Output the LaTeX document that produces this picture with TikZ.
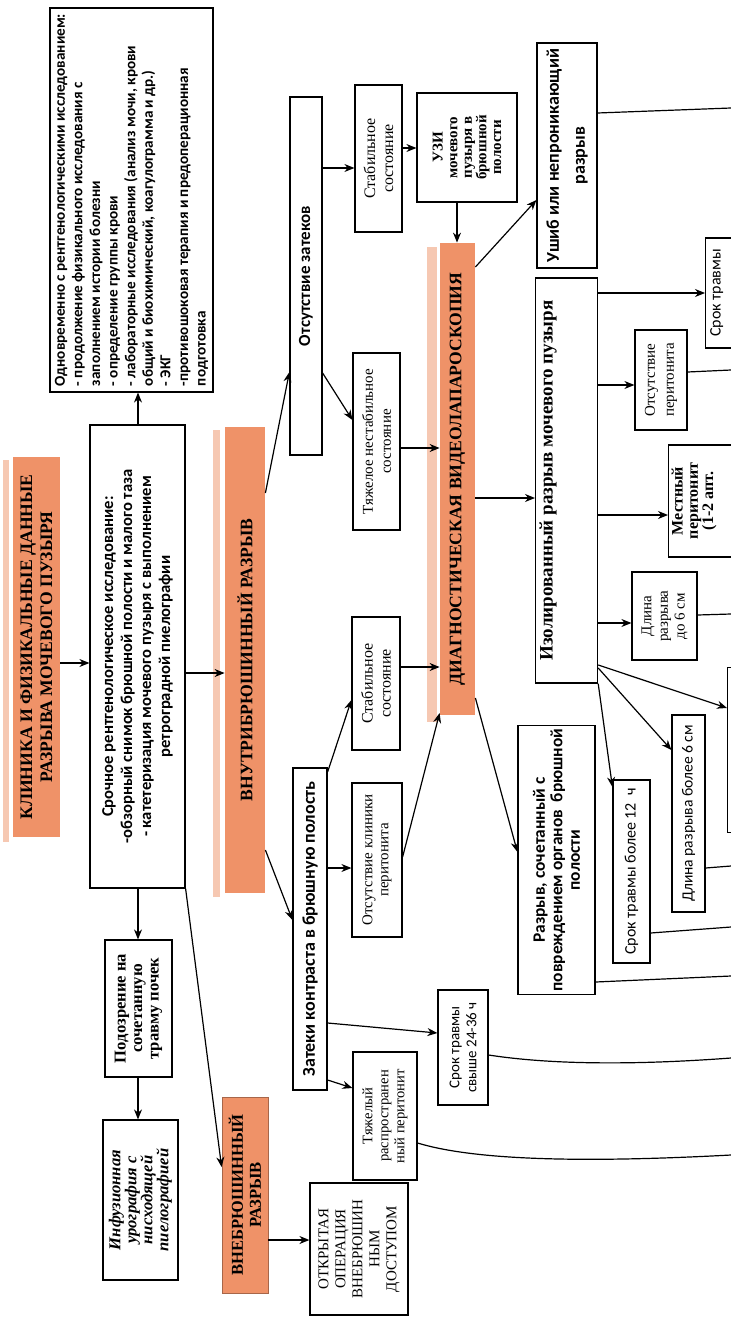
\documentclass[tikz,border=0pt]{standalone}
\usepackage{fontspec}
\setmainfont{Liberation Serif}
\newfontfamily\calibri{Carlito}
\usetikzlibrary{arrows.meta,calc}

\definecolor{blockorange}{RGB}{239,146,104}
\definecolor{paleorange}{RGB}{246,200,178}

\newcommand{\fsz}[2]{\fontsize{#1}{#2}\selectfont}

\tikzset{
  box/.style={draw, rotate=90, align=center, inner sep=1.5pt, line width=0.6pt},
  orangebox/.style={fill=blockorange, rotate=90, align=center, inner sep=1.5pt},
  arr/.style={->, line width=0.6pt},
  link/.style={line width=0.6pt},
}

\begin{document}
\begin{tikzpicture}[x=0.5pt, y=-0.5pt, >={Stealth[length=5pt,width=4pt]}]
    \useasboundingbox (0,0) rectangle (731,1321);
    \clip (0,0) rectangle (731,1321);

    % Shadows of the orange blocks
    \fill[paleorange] (3,460) rectangle (9,842);
    \fill[paleorange] (213,430) rectangle (220,897);
    \fill[paleorange] (427,247) rectangle (437,722);

    % Orange headings
    \node[orangebox, minimum width=190pt, minimum height=23.5pt, font=\fsz{8.8}{10}\bfseries] (title) at (36.5,647) {КЛИНИКА И ФИЗИКАЛЬНЫЕ ДАННЫЕ\\РАЗРЫВА МОЧЕВОГО ПУЗЫРЯ};
    \node[orangebox, minimum width=233pt, minimum height=20pt, font=\fsz{8.8}{10}\bfseries] (vnutri) at (245,660) {ВНУТРИБРЮШИННЫЙ РАЗРЫВ};
    \node[orangebox, draw=blockorange!70!black, line width=0.4pt, minimum width=98pt, minimum height=23pt, font=\fsz{8.3}{9}\bfseries] (vnebr) at (245,1195) {ВНЕБРЮШИННЫЙ\\РАЗРЫВ};
    \node[orangebox, minimum width=236pt, minimum height=17.5pt, font=\fsz{8.8}{10}\bfseries] (diag) at (457.5,479) {ДИАГНОСТИЧЕСКАЯ ВИДЕОЛАПАРОСКОПИЯ};

    % Examination boxes
    \node[box, align=left, minimum width=192pt, minimum height=81.5pt, font=\calibri\fsz{7.6}{8.8}\bfseries] (odnovr) at (131.5,200) {Одновременно с рентгенологическими исследованием:\\- продолжение физикального исследования с\\заполнением истории болезни\\- определение группы крови\\- лабораторные исследования (анализ мочи, крови\\общий и биохимический, коагулограмма и др.)\\- ЭКГ\\-противошоковая терапия и предоперационная\\подготовка};
    \node[box, minimum width=231.5pt, minimum height=47.5pt, font=\calibri\fsz{8.3}{9.5}\bfseries] (srochn) at (137.5,656.5) {Срочное рентгенологическое исследование:\\-обзорный снимок брюшной полости и малого таза\\- катетеризация мочевого пузыря с выполнением\\ретроградной пиелографии};
    \node[box, minimum width=68.5pt, minimum height=33.5pt, font=\fsz{8.3}{8.3}\bfseries] (podozr) at (138.5,1008.5) {Подозрение на\\сочетанную\\травму почек};
    \node[box, minimum width=80pt, minimum height=37.5pt, font=\fsz{8.3}{8}\bfseries\itshape] (infuz) at (140.5,1200) {Инфузионная\\урография с\\нисходящей\\пиелографией};
    \node[box, minimum width=66pt, minimum height=49pt, font=\fsz{7.5}{8.5}] (otkr) at (359,1249) {ОТКРЫТАЯ\\ОПЕРАЦИЯ\\ВНЕБРЮШИН\\НЫМ\\ДОСТУПОМ};

    % Intraperitoneal branch
    \node[box, minimum width=179pt, minimum height=16pt, font=\calibri\fsz{8.5}{9}\bfseries] (otsZat) at (306,276) {Отсутствие затеков};
    \node[box, minimum width=73.5pt, minimum height=23.5pt, font=\fsz{8}{9}] (stab1) at (378.5,158.5) {Стабильное\\состояние};
    \node[box, minimum width=88.5pt, minimum height=23.5pt, font=\fsz{7.5}{9}] (tyazhNest) at (376.5,441.5) {Тяжелое нестабильное\\состояние};
    \node[box, minimum width=54.5pt, minimum height=50pt, font=\fsz{7.5}{7.3}\bfseries] (uzi) at (467,147.5) {УЗИ\\мочевого\\пузыря в\\брюшной\\полости};
    \node[box, minimum width=161pt, minimum height=17pt, font=\calibri\fsz{9}{9}\bfseries] (zatek) at (310,929) {Затеки контраста в брюшную полость};
    \node[box, minimum width=66.5pt, minimum height=24pt, font=\fsz{8}{9}] (stab2) at (376,683.5) {Стабильное\\состояние};
    \node[box, minimum width=77pt, minimum height=25pt, font=\fsz{7.5}{8}] (otsKlin) at (377,860) {Отсутствие клиники\\перитонита};
    \node[box, minimum width=64pt, minimum height=32pt, font=\fsz{7.3}{8}] (tyazhRasp) at (385,1116) {Тяжелый\\распространен\\ный перитонит};
    \node[box, minimum width=57.5pt, minimum height=25pt, font=\calibri\fsz{7.5}{8.5}] (srok24) at (463,1047.5) {Срок травмы\\свыше 24-36 ч};

    % Findings of laparoscopy
    \node[box, minimum width=112.5pt, minimum height=30pt, font=\calibri\fsz{9}{13}\bfseries] (ushib) at (567,155.5) {Ушиб или непроникающий\\разрыв};
    \node[box, anchor=north, minimum width=202.5pt, text height=7pt, text depth=21pt, font=\fsz{9.5}{10}\bfseries] (izol) at (535,480.5) {Изолированный разрыв мочевого пузыря};
    \node[box, minimum width=130pt, minimum height=38.5pt, font=\calibri\fsz{8.7}{8.7}\bfseries] (razSoch) at (556.5,860) {Разрыв, сочетанный с\\повреждением органов~~брюшной\\полости};
    \node[box, anchor=north, minimum width=55pt, text height=6pt, text depth=30pt, font=\calibri\fsz{8}{9}] (srokTop) at (705,293) {Срок травмы};
    \node[box, minimum width=50pt, minimum height=26pt, font=\fsz{7.5}{9.5}] (otsPer) at (661,380) {Отсутствие\\перитонита};
    \node[box, anchor=north, minimum width=56pt, font=\fsz{8}{7.6}\bfseries] (mestn) at (668,501) {Местный\\перитонит\\(1-2 апт.\\ \mbox{}\\ \mbox{}};
    \node[box, minimum width=44pt, minimum height=32.5pt, font=\fsz{7.5}{8.3}] (dlina6) at (664.5,616) {Длина\\разрыва\\до 6 см};
    \node[box, anchor=north, minimum width=82.5pt, minimum height=30pt] (cutBox) at (727,750) {};
    \node[box, minimum width=98.5pt, minimum height=16.5pt, font=\calibri\fsz{7.8}{9}] (dlinaBol) at (688.5,813.5) {Длина разрыва более 6 см};
    \node[box, minimum width=91.5pt, minimum height=18.5pt, font=\calibri\fsz{8}{9}] (srok12) at (631.5,871.5) {Срок травмы более 12~~ч};

    % Loose ends on the right margin
    \coordinate (r1) at (731,108);
    \coordinate (r2) at (731,370);
    \coordinate (r3) at (731,614);
    \coordinate (r4) at (731,866);
    \coordinate (r5) at (731,927);
    \coordinate (r6) at (731,976);
    \coordinate (r7) at (731,1058);
    \coordinate (r8) at (731,1155);

    % Arrows of the first column
    \draw[arr] (title.south |- 0,663) -- (srochn.north |- 0,663);
    \draw[arr] (srochn.south |- 0,673) -- (vnutri.north |- 0,673);
    \draw[arr] (srochn.east -| 138,0) -- (odnovr.west -| 138,0);
    \draw[arr] (srochn.west -| 138,0) -- (podozr.east -| 138,0);
    \draw[arr] (podozr.west -| 138,0) -- (infuz.east -| 138,0);
    \draw[arr] (srochn.south west) -- (vnebr.north |- 0,1167);
    \draw[arr] (vnebr.south |- 0,1240) -- (otkr.north |- 0,1240);

    % Arrows of the intraperitoneal branch
    \draw[arr] (vnutri.south |- 0,493) -- (otsZat.north |- 0,372);
    \draw[arr] (otsZat.south |- 0,373) -- (tyazhNest.north |- 0,420);
    \draw[arr] (otsZat.south |- 0,168) -- (stab1.north |- 0,168);
    \draw[arr] (stab1.south |- 0,148) -- (uzi.north |- 0,148);
    \draw[arr] (uzi.west -| 457,0) -- (diag.east -| 457,0);
    \draw[arr] (tyazhNest.south |- 0,448) -- (diag.north |- 0,448);
    \draw[arr] (vnutri.south |- 0,850) -- (zatek.north |- 0,920);
    \draw[arr] (zatek.south |- 0,772) -- (stab2.north |- 0,700);
    \draw[arr] (zatek.south |- 0,868) -- (otsKlin.north |- 0,868);
    \draw[arr] (zatek.south |- 0,1080) -- (tyazhRasp.north |- 0,1088);
    \draw[arr] (zatek.south |- 0,1023) -- (srok24.north |- 0,1033);
    \draw[arr] (stab2.south |- 0,667) -- (diag.north |- 0,667);
    \draw[arr] (otsKlin.south |- 0,857) -- (diag.north |- 0,713);

    % Arrows out of the laparoscopy
    \draw[arr] (diag.south |- 0,267) -- (ushib.north |- 0,200);
    \draw[arr] (diag.south |- 0,498) -- (izol.north |- 0,498);
    \draw[arr] (diag.south |- 0,698) -- (razSoch.north |- 0,852);
    \draw[arr] (izol.south |- 0,293) -- (srokTop.north |- 0,293);
    \draw[arr] (izol.south |- 0,385) -- (otsPer.north |- 0,385);
    \draw[arr] (izol.south |- 0,515) -- (mestn.north |- 0,515);
    \draw[arr] (izol.south |- 0,623) -- (dlina6.north |- 0,623);
    \draw[arr] (izol.south |- 0,665) -- (cutBox.north |- 0,708);
    \draw[arr] (izol.south |- 0,668) -- (dlinaBol.north |- 0,750);
    \draw[arr] (izol.south west) -- (srok12.north |- 0,787);

    % Lines running off the right margin
    \draw[link] (ushib.south |- 0,113) -- (r1);
    \draw[link] (otsPer.south |- 0,372) -- (r2);
    \draw[link] (dlina6.south |- 0,615) -- (r3);
    \draw[link] (dlinaBol.south |- 0,868) -- (r4);
    \draw[link] (srok12.south |- 0,933) -- (r5);
    \draw[link] (razSoch.south |- 0,982) -- (r6);
    \draw[link] (srok24.south |- 0,1055) .. controls (560,1066) and (650,1064) .. (r7);
    \draw[link] (tyazhRasp.south |- 0,1143) .. controls (480,1162) and (600,1162) .. (r8);
\end{tikzpicture}
\end{document}
